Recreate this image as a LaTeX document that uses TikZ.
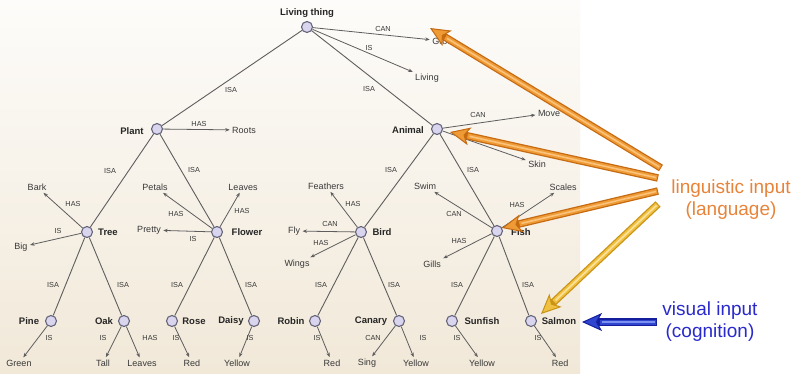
\documentclass[tikz,border=0pt]{standalone}
\usepackage{fontspec}
\setmainfont{Liberation Sans}
\usetikzlibrary{arrows.meta}
\definecolor{edgegray}{HTML}{5E5E5E}
\definecolor{circdraw}{HTML}{64647A}
\definecolor{circfill}{HTML}{DAD5EF}
\definecolor{bgtop}{HTML}{FDFCFA}
\definecolor{bgbot}{HTML}{F1E8D8}
\definecolor{ordark}{HTML}{C66A12}
\definecolor{ormid}{HTML}{EE9A35}
\definecolor{orlight}{HTML}{FAC27A}
\definecolor{yedark}{HTML}{C99316}
\definecolor{yemid}{HTML}{F0C040}
\definecolor{yelight}{HTML}{FBE29A}
\definecolor{bldark}{HTML}{141E9C}
\definecolor{blmid}{HTML}{2F45D0}
\definecolor{bllight}{HTML}{7C90F0}
\definecolor{ortext}{HTML}{E8843A}
\definecolor{bltext}{HTML}{2A2ACC}
\begin{document}
\begin{tikzpicture}[x=1pt,y=-1pt,
  cnode/.style={circle,draw=circdraw,fill=circfill,line width=1.1pt,minimum size=11pt,inner sep=0pt},
  nm/.style={font=\fontsize{9.5}{10}\selectfont\bfseries,text=black!85,inner sep=0pt},
  prop/.style={font=\fontsize{9}{10}\selectfont,text=black!78,inner sep=1pt,outer sep=1.5pt},
  lab/.style={font=\fontsize{7.3}{8}\selectfont,text=black!78,inner sep=0pt},
  isa/.style={draw=edgegray,line width=0.9pt},
  rel/.style={draw=edgegray,line width=0.8pt,-{Stealth[length=4.5pt,width=3.5pt]}},
  midband/.style={line width=5pt,shorten >=18pt,shorten <=1pt},
  hilite/.style={line width=1.6pt,shorten >=20pt,shorten <=2pt},
  bigtext/.style={font=\fontsize{19}{22}\selectfont,align=center,inner sep=0pt},
]
\useasboundingbox (0,0) rectangle (795,373);
\fill[white] (0,0) rectangle (795,373);
\shade[top color=bgtop,bottom color=bgbot] (0,0) rectangle (580,373);

% concept nodes
\node[cnode] (living) at (307,27) {};
\node[cnode] (plant) at (157,129) {};
\node[cnode] (animal) at (437,129) {};
\node[cnode] (tree) at (87,232) {};
\node[cnode] (flower) at (217,232) {};
\node[cnode] (bird) at (361,232) {};
\node[cnode] (fish) at (497,231) {};
\node[cnode] (pine) at (51,321) {};
\node[cnode] (oak) at (124,321) {};
\node[cnode] (rose) at (172,321) {};
\node[cnode] (daisy) at (254,321) {};
\node[cnode] (robin) at (315,321) {};
\node[cnode] (canary) at (399,321) {};
\node[cnode] (sunfish) at (452,321) {};
\node[cnode] (salmon) at (531,321) {};

% concept names
\node[nm] (nliving) at (307,13) {Living thing};
\node[nm] (nplant) at (132,131) {Plant};
\node[nm] (nanimal) at (408,130) {Animal};
\node[nm] (ntree) at (108,232) {Tree};
\node[nm] (nflower) at (247,232) {Flower};
\node[nm] (nbird) at (382,232) {Bird};
\node[nm] (nfish) at (521,232) {Fish};
\node[nm] (npine) at (29,321) {Pine};
\node[nm] (noak) at (104,321) {Oak};
\node[nm] (nrose) at (194,321) {Rose};
\node[nm] (ndaisy) at (231,321) {Daisy};
\node[nm] (nrobin) at (291,321) {Robin};
\node[nm] (ncanary) at (371,321) {Canary};
\node[nm] (nsunfish) at (482,321) {Sunfish};
\node[nm] (nsalmon) at (559,321) {Salmon};

% property nodes
\node[prop] (grow) at (443,41) {Grow};
\node[prop] (livingp) at (427,78) {Living};
\node[prop] (roots) at (244,130) {Roots};
\node[prop] (move) at (549,113) {Move};
\node[prop] (skin) at (537,164) {Skin};
\node[prop] (bark) at (37,187) {Bark};
\node[prop] (big) at (21,247) {Big};
\node[prop] (petals) at (155,187) {Petals};
\node[prop] (leavesA) at (243,187) {Leaves};
\node[prop] (pretty) at (149,230) {Pretty};
\node[prop] (feathers) at (326,186) {Feathers};
\node[prop] (fly) at (294,231) {Fly};
\node[prop] (wings) at (297,264) {Wings};
\node[prop] (swim) at (425,186) {Swim};
\node[prop] (scales) at (563,187) {Scales};
\node[prop] (gills) at (432,264) {Gills};
\node[prop] (green) at (19,363) {Green};
\node[prop] (tall) at (103,363) {Tall};
\node[prop] (leavesB) at (142,363) {Leaves};
\node[prop] (redA) at (192,363) {Red};
\node[prop] (yellowA) at (237,363) {Yellow};
\node[prop] (redB) at (332,363) {Red};
\node[prop] (sing) at (367,363) {Sing};
\node[prop] (yellowB) at (416,363) {Yellow};
\node[prop] (yellowC) at (482,363) {Yellow};
\node[prop] (redC) at (560,363) {Red};

% ISA links
\draw[isa] (living) -- (plant);
\draw[isa] (living) -- (animal);
\draw[isa] (plant) -- (tree);
\draw[isa] (plant) -- (flower);
\draw[isa] (animal) -- (bird);
\draw[isa] (animal) -- (fish);
\draw[isa] (tree) -- (pine);
\draw[isa] (tree) -- (oak);
\draw[isa] (flower) -- (rose);
\draw[isa] (flower) -- (daisy);
\draw[isa] (bird) -- (robin);
\draw[isa] (bird) -- (canary);
\draw[isa] (fish) -- (sunfish);
\draw[isa] (fish) -- (salmon);

% property links
\draw[rel] (living) -- (grow);
\draw[rel] (living) -- (livingp);
\draw[rel] (plant) -- (roots);
\draw[rel] (animal) -- (move);
\draw[rel] (animal) -- (skin);
\draw[rel] (tree) -- (bark);
\draw[rel] (tree) -- (big);
\draw[rel] (flower) -- (petals);
\draw[rel] (flower) -- (leavesA);
\draw[rel] (flower) -- (pretty);
\draw[rel] (bird) -- (feathers);
\draw[rel] (bird) -- (fly);
\draw[rel] (bird) -- (wings);
\draw[rel] (fish) -- (swim);
\draw[rel] (fish) -- (scales);
\draw[rel] (fish) -- (gills);
\draw[rel] (pine) -- (green);
\draw[rel] (oak) -- (tall);
\draw[rel] (oak) -- (leavesB);
\draw[rel] (rose) -- (redA);
\draw[rel] (daisy) -- (yellowA);
\draw[rel] (robin) -- (redB);
\draw[rel] (canary) -- (sing);
\draw[rel] (canary) -- (yellowB);
\draw[rel] (sunfish) -- (yellowC);
\draw[rel] (salmon) -- (redC);

% link labels
\node[lab] (l1) at (383,29) {CAN};
\node[lab] (l2) at (369,48) {IS};
\node[lab] (l3) at (231,90) {ISA};
\node[lab] (l4) at (369,89) {ISA};
\node[lab] (l5) at (199,124) {HAS};
\node[lab] (l6) at (478,115) {CAN};
\node[lab] (l7) at (110,171) {ISA};
\node[lab] (l8) at (194,170) {ISA};
\node[lab] (l9) at (391,170) {ISA};
\node[lab] (l10) at (473,170) {ISA};
\node[lab] (l11) at (73,204) {HAS};
\node[lab] (l12) at (58,231) {IS};
\node[lab] (l13) at (176,214) {HAS};
\node[lab] (l14) at (242,211) {HAS};
\node[lab] (l15) at (193,239) {IS};
\node[lab] (l16) at (353,204) {HAS};
\node[lab] (l17) at (330,224) {CAN};
\node[lab] (l18) at (321,243) {HAS};
\node[lab] (l19) at (517,205) {HAS};
\node[lab] (l20) at (454,214) {CAN};
\node[lab] (l21) at (459,241) {HAS};
\node[lab] (l22) at (53,285) {ISA};
\node[lab] (l23) at (123,285) {ISA};
\node[lab] (l24) at (177,285) {ISA};
\node[lab] (l25) at (251,285) {ISA};
\node[lab] (l26) at (321,285) {ISA};
\node[lab] (l27) at (394,285) {ISA};
\node[lab] (l28) at (457,285) {ISA};
\node[lab] (l29) at (528,285) {ISA};
\node[lab] (l30) at (49,338) {IS};
\node[lab] (l31) at (103,338) {IS};
\node[lab] (l32) at (150,338) {HAS};
\node[lab] (l33) at (176,338) {IS};
\node[lab] (l34) at (250,338) {IS};
\node[lab] (l35) at (317,338) {IS};
\node[lab] (l36) at (373,338) {CAN};
\node[lab] (l37) at (423,338) {IS};
\node[lab] (l38) at (457,338) {IS};
\node[lab] (l39) at (538,338) {IS};

% right-hand texts
\node[bigtext,text=ortext] (ling) at (731,200) {linguistic input\\(language)};
\node[bigtext,text=bltext] (vis) at (710,322) {visual input\\(cognition)};

% big arrows
\coordinate (t1) at (661,168);
\coordinate (h1) at (430,28);
\coordinate (t2) at (658,178);
\coordinate (h2) at (450,132);
\coordinate (t3) at (658,191);
\coordinate (h3) at (502,228);
\coordinate (t4) at (658,204);
\coordinate (h4) at (541,314);
\coordinate (t5) at (657,322);
\coordinate (h5) at (582,322);

\foreach \t/\h/\cd/\cm/\cl in {t1/h1/ordark/ormid/orlight, t2/h2/ordark/ormid/orlight, t3/h3/ordark/ormid/orlight, t4/h4/yedark/yemid/yelight, t5/h5/bldark/blmid/bllight}{
  \draw[line width=7.5pt,draw=\cd,-{Stealth[length=20pt,width=18pt,inset=5pt,fill=\cm,line width=1pt]}] (\t) -- (\h);
  \draw[midband,\cm] (\t) -- (\h);
  \draw[hilite,\cl] (\t) -- (\h);
}
\end{tikzpicture}
\end{document}
